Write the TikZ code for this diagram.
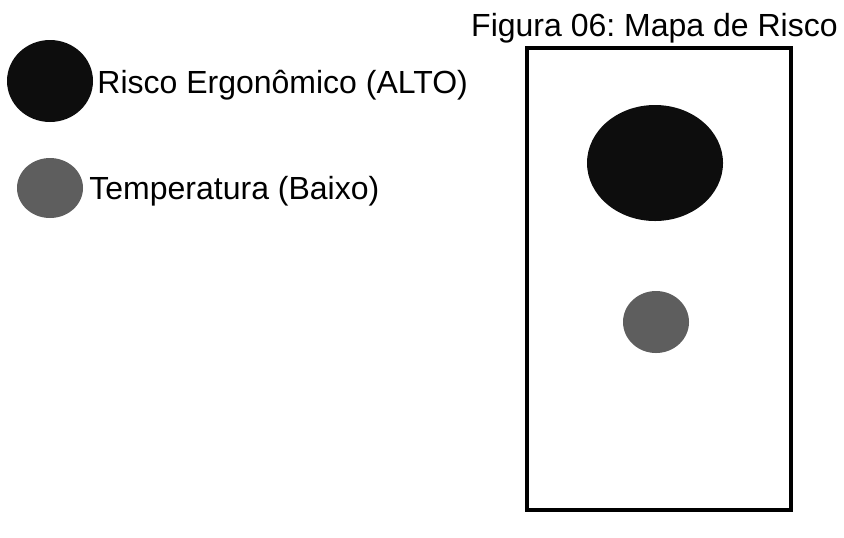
\documentclass[tikz,border=0pt]{standalone}
\usepackage{fontspec}
\setmainfont{Liberation Sans}
\frenchspacing
\usetikzlibrary{shapes.geometric, positioning}

\tikzset{
    alto/.style={ellipse, fill=black!95, inner sep=0pt},
    baixo/.style={ellipse, fill=black!63, inner sep=0pt},
    legenda/.style={anchor=base west, inner sep=0pt, font=\fontsize{16}{19}\selectfont}
}

\begin{document}
\begin{tikzpicture}[x=0.5pt, y=-0.5pt]
    \useasboundingbox (0,0) rectangle (844,537);
    % Legenda
    \node[alto, minimum width=43pt, minimum height=41pt] (leg1) at (50,81) {};
    \node[legenda] (txt1) at (97,93) {Risco Ergonômico (ALTO)};
    \node[baixo, minimum width=33pt, minimum height=30pt] (leg2) at (50,188) {};
    \node[legenda] (txt2) at (89,199) {Temperatura (Baixo)};
    % Mapa
    \node[legenda, anchor=base east] (titulo) at (838,36) {Figura 06: Mapa de Risco};
    \node[draw, line width=2pt, minimum width=132pt, minimum height=231pt, inner sep=0pt] (mapa) at (659,279) {};
    \node[alto, minimum width=68pt, minimum height=58pt] (risco1) at (655,163) {};
    \node[baixo, minimum width=33pt, minimum height=31pt] (risco2) at (656,322) {};
\end{tikzpicture}
\end{document}
